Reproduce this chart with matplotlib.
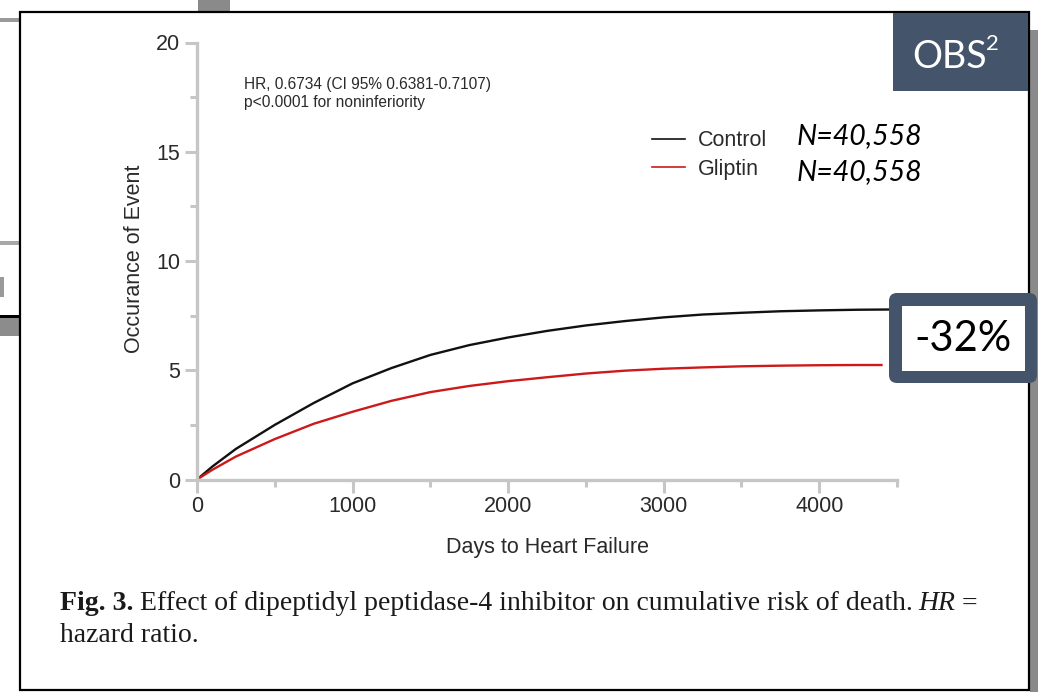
import matplotlib
matplotlib.use("Agg")
import matplotlib.pyplot as plt
from matplotlib.patches import Rectangle, FancyBboxPatch
from matplotlib.transforms import Affine2D
from matplotlib.lines import Line2D

# Cumulative event curves (days, % occurrence)
control_days = [0, 100, 250, 500, 750, 1000, 1250, 1500, 1750, 2000, 2250, 2500,
                2750, 3000, 3250, 3500, 3750, 4000, 4250, 4450]
control_pct = [0, 0.6, 1.4, 2.5, 3.5, 4.4, 5.1, 5.7, 6.15, 6.5, 6.8, 7.05,
               7.25, 7.42, 7.55, 7.63, 7.7, 7.74, 7.77, 7.78]
gliptin_days = [0, 100, 250, 500, 750, 1000, 1250, 1500, 1750, 2000, 2250, 2500,
                2750, 3000, 3250, 3500, 3750, 4000, 4250, 4400]
gliptin_pct = [0, 0.45, 1.05, 1.85, 2.55, 3.1, 3.6, 4.0, 4.28, 4.5, 4.68, 4.85,
               4.98, 5.07, 5.13, 5.18, 5.21, 5.23, 5.24, 5.24]

series_names = ["Control", "Gliptin"]
series_n = ["N=40,558", "N=40,558"]
y_ticks = [0, 5, 10, 15, 20]
x_ticks = [0, 1000, 2000, 3000, 4000]

hr_lines = ["HR, 0.6734 (CI 95% 0.6381-0.7107)", "p<0.0001 for noninferiority"]
# caption line 1 as (text, weight, style) pieces
caption_1 = [("Fig. 3.", "bold", "normal"),
             ("Effect of dipeptidyl peptidase-4 inhibitor on cumulative risk of death.", "normal", "normal"),
             ("HR", "normal", "italic"),
             ("=", "normal", "normal")]
caption_2 = "hazard ratio."

W, H = 1038, 692
SLATE = "#44546a"
AXIS_GREY = "#c6c6c6"
TEXT = "#2a2a2a"

fig = plt.figure(figsize=(W / 100, H / 100), dpi=100)
# pixel coords, origin top-left
pix = Affine2D().scale(0.01, -0.01).translate(0, H / 100) + fig.dpi_scale_trans


def rect(x0, y0, x1, y1, **kw):
    fig.add_artist(Rectangle((x0, y1), x1 - x0, y0 - y1, transform=pix, **kw))


# slide decorations behind the main frame
rect(198, 0, 230, 13, facecolor="#8a8a8a", edgecolor="none", zorder=1)
rect(0, 18, 20, 22, facecolor="#9a9a9a", edgecolor="none", zorder=1)
rect(0, 241, 20, 245, facecolor="#a8a8a8", edgecolor="none", zorder=1)
rect(0, 277, 4, 297, facecolor="#9a9a9a", edgecolor="none", zorder=1)
rect(0, 316, 20, 336, facecolor="#8c8c8c", edgecolor="none", zorder=1)
rect(0, 315, 20, 318, facecolor="black", edgecolor="none", zorder=1)
rect(1030, 30, 1038, 692, facecolor="#8a8a8a", edgecolor="none", zorder=1)
rect(20, 12, 1029, 690, facecolor="white", edgecolor="black", linewidth=1.6, zorder=2)

ax = fig.add_axes([197 / W, (H - 479.5) / H, 700 / W, 437 / H])
ax.set_zorder(3)
ax.patch.set_alpha(0)
ax.plot(control_days, control_pct, color="#111111", linewidth=1.7)
ax.plot(gliptin_days, gliptin_pct, color="#cc1a1a", linewidth=1.7)
ax.set_xlim(0, 4500)
ax.set_ylim(0, 20)

for side in ["top", "right"]:
    ax.spines[side].set_visible(False)
for side in ["left", "bottom"]:
    ax.spines[side].set_color(AXIS_GREY)
    ax.spines[side].set_linewidth(2.4)
ax.set_yticks(y_ticks)
ax.set_yticks([2.5, 7.5, 12.5, 17.5], minor=True)
ax.set_xticks(x_ticks)
ax.set_xticks([500, 1500, 2500, 3500, 4500], minor=True)
ax.tick_params(which="major", length=9, width=2.2, color=AXIS_GREY, labelsize=15.5,
               labelcolor=TEXT, pad=3)
ax.tick_params(which="minor", length=5, width=2.2, color=AXIS_GREY)
for lab in ax.get_xticklabels() + ax.get_yticklabels():
    lab.set_fontfamily("Liberation Sans")
ax.set_xlabel("Days to Heart Failure", fontsize=15.5, family="Liberation Sans", color=TEXT)
ax.set_ylabel("Occurance of Event", fontsize=15.5, family="Liberation Sans", color=TEXT)
ax.xaxis.set_label_coords(0.5, -(547 - 479.5) / 437)
ax.yaxis.set_label_coords((135 - 197) / 700, 0.505)
ax.xaxis.label.set_va("center")
ax.yaxis.label.set_va("center")

for i, line in enumerate(hr_lines):
    fig.text(244, 84 + i * 18, line, transform=pix, fontsize=11.2, family="Liberation Sans",
             color=TEXT, va="center", zorder=4)

handles = [Line2D([], [], color="#111111", linewidth=1.2),
           Line2D([], [], color="#cc1a1a", linewidth=1.2)]
fig.legend(handles, series_names, loc="upper left", bbox_to_anchor=(633, 111),
           bbox_transform=pix, frameon=False, prop={"family": "Liberation Sans", "size": 15.5},
           handlelength=1.5, handletextpad=0.6, labelspacing=0.35, labelcolor=TEXT)
for i, n in enumerate(series_n):
    fig.text(797, 136 + i * 36, n, transform=pix, fontsize=20.5, family="Lato",
             style="italic", va="center", color="black", zorder=4)

# OBS^2 tag
rect(893, 13, 1028, 91, facecolor=SLATE, edgecolor="none", zorder=4)
fig.text(912, 57, "OBS", transform=pix, fontsize=27, family="Lato", color="white",
         ha="left", va="center", zorder=5)
fig.text(986, 44, "2", transform=pix, fontsize=16, family="Lato", color="white",
         ha="left", va="center", zorder=5)

# -32% callout
fig.add_artist(FancyBboxPatch((889 / 100, (H - 383) / 100), 148 / 100, 90 / 100,
                              boxstyle="round,pad=0,rounding_size=0.08", transform=fig.dpi_scale_trans,
                              facecolor=SLATE, edgecolor="none", zorder=6))
rect(902, 306, 1025, 371, facecolor="white", edgecolor="none", zorder=7)
fig.text(963, 339, "-32%", transform=pix, fontsize=30, family="Lato", color="black",
         ha="center", va="center", zorder=8)

# caption, laid out piece by piece so bold/italic runs sit next to each other
renderer = fig.canvas.get_renderer()
x = 60
for text, weight, style in caption_1:
    t = fig.text(x, 604, text, transform=pix, fontsize=20, family="Liberation Serif",
                 weight=weight, style=style, va="center", color="#1a1a1a", zorder=4)
    x += t.get_window_extent(renderer).width + 6
fig.text(60, 636, caption_2, transform=pix, fontsize=20, family="Liberation Serif",
         va="center", color="#1a1a1a", zorder=4)

fig.savefig("out.png", dpi=100)
